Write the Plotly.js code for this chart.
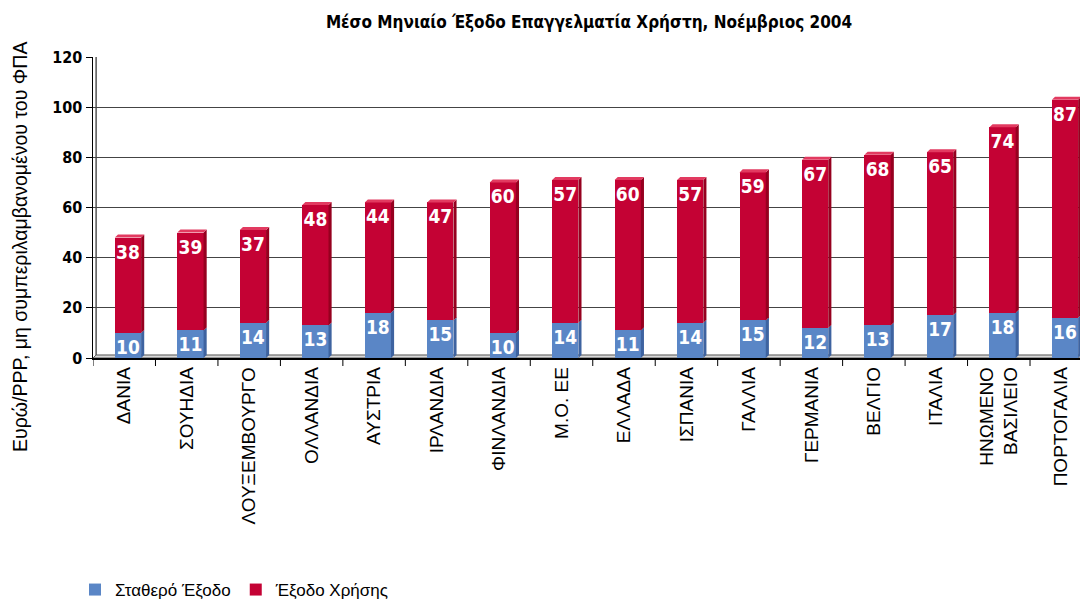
<!DOCTYPE html>
<html><head><meta charset="utf-8">
<script src="https://cdn.plot.ly/plotly-3.0.1.min.js"></script>
<style>body{margin:0;background:#fff}#c{width:1083px;height:602px}</style>
</head><body><div id="c"></div>
<script>
const categories = ["ΔΑΝΙΑ","ΣΟΥΗΔΙΑ","ΛΟΥΞΕΜΒΟΥΡΓΟ","ΟΛΛΑΝΔΙΑ","ΑΥΣΤΡΙΑ","ΙΡΛΑΝΔΙΑ","ΦΙΝΛΑΝΔΙΑ","Μ.Ο. ΕΕ","ΕΛΛΑΔΑ","ΙΣΠΑΝΙΑ","ΓΑΛΛΙΑ","ΓΕΡΜΑΝΙΑ","ΒΕΛΓΙΟ","ΙΤΑΛΙΑ","ΗΝΩΜΕΝΟ<br>ΒΑΣΙΛΕΙΟ","ΠΟΡΤΟΓΑΛΙΑ"];
const fixedCost = [10,11,14,13,18,15,10,14,11,14,15,12,13,17,18,16];
const usageCost = [38,39,37,48,44,47,60,57,60,57,59,67,68,65,74,87];
const seriesNames = ["Σταθερό Έξοδο","Έξοδο Χρήσης"];
const yTicks = [0,20,40,60,80,100,120];

const BLUE = "#5A86C6", RED = "#C40234";
const BLUE_SIDE = "#3E63A0", RED_SIDE = "#96001F";
const RED_TOP = "#E23A60";
const W = 0.42, OFF = -0.15, DX = 0.05, DY = 1.2;
const labelFont = {family:"DejaVu Sans Condensed", size:19, color:"#fff", weight:"bold"};

const xs = categories.map((_, i) => i);
const traces = [
  {type:"bar", name:seriesNames[0], x:xs, y:fixedCost, width:W, offset:OFF,
   marker:{color:BLUE, line:{width:0}}, text:fixedCost.map(String), textposition:"inside",
   insidetextanchor:"end", textangle:0, textfont:labelFont, constraintext:"none", hoverinfo:"y"},
  {type:"bar", name:seriesNames[1], x:xs, y:usageCost, width:W, offset:OFF,
   marker:{color:RED, line:{width:0}}, text:usageCost.map(String), textposition:"inside",
   insidetextanchor:"end", textangle:0, textfont:labelFont, constraintext:"none", hoverinfo:"y"}
];

const shapes = [];
shapes.push({type:"path", xref:"x", yref:"y", layer:"below",
  path:`M -0.5 0 L ${-0.5+DX} ${DY} L 16 ${DY} L 16 0 Z`, fillcolor:"#d9d9d9", line:{color:"#555", width:1}});
shapes.push({type:"line", xref:"x", yref:"y", layer:"below", x0:-0.5+DX, x1:-0.5+DX, y0:DY, y1:120, line:{color:"#555", width:1.5}});
xs.forEach(i => {
  const xl = i + OFF, xr = i + OFF + W;
  const b0 = 0, b1 = fixedCost[i], b2 = fixedCost[i] + usageCost[i];
  shapes.push({type:"path", xref:"x", yref:"y", path:`M ${xr} ${b0} L ${xr+DX} ${b0+DY} L ${xr+DX} ${b1+DY} L ${xr} ${b1} Z`, fillcolor:BLUE_SIDE, line:{width:0}});
  shapes.push({type:"path", xref:"x", yref:"y", path:`M ${xr} ${b1} L ${xr+DX} ${b1+DY} L ${xr+DX} ${b2+DY} L ${xr} ${b2} Z`, fillcolor:RED_SIDE, line:{width:0}});
  shapes.push({type:"path", xref:"x", yref:"y", path:`M ${xl} ${b2} L ${xl+DX} ${b2+DY} L ${xr+DX} ${b2+DY} L ${xr} ${b2} Z`, fillcolor:RED_TOP, line:{width:0}});
});
xs.forEach(i => shapes.push({type:"line", xref:"x", yref:"paper", x0:i-0.5, x1:i-0.5, y0:0, y1:-8/301, line:{color:"#000", width:1}}));

const layout = {
  width:1083, height:602, barmode:"stack",
  margin:{l:93, r:3, t:57, b:244, autoexpand:false},
  paper_bgcolor:"#fff", plot_bgcolor:"#fff",
  font:{family:"Liberation Sans, Arial, sans-serif", color:"#000"},
  title:{text:"<b>Μέσο Μηνιαίο Έξοδο Επαγγελματία Χρήστη, Νοέμβριος 2004</b>",
    font:{family:"DejaVu Sans Condensed", size:17, color:"#000"},
    x:589/1083, xanchor:"center", y:1-22/602, yanchor:"middle", xref:"container", yref:"container"},
  xaxis:{type:"linear", range:[-0.5, 15.3], tickmode:"array", tickvals:xs, ticktext:categories,
    tickangle:-90, ticks:"", showgrid:false, showline:true, linecolor:"#000", linewidth:1.5, automargin:false,
    tickfont:{family:"Liberation Sans, Arial", size:19, color:"#000"}, zeroline:false, fixedrange:true},
  yaxis:{range:[0,120], tickmode:"array", tickvals:yTicks, ticks:"outside", ticklen:6, tickcolor:"#000",
    showline:true, linecolor:"#000", linewidth:1.5, showgrid:true, gridcolor:"#444", gridwidth:1, automargin:false,
    zeroline:false, tickfont:{family:"DejaVu Sans Condensed", size:16, color:"#000", weight:"bold"}, fixedrange:true},
  showlegend:true,
  legend:{orientation:"h", xref:"container", yref:"container", x:75/1083, xanchor:"left", y:(602-590)/602, yanchor:"middle",
    font:{family:"Liberation Sans, Arial", size:17, color:"#000"}, traceorder:"normal", itemwidth:30},
  shapes:shapes,
  annotations:[
    {text:"Ευρώ/PPP, μη συμπεριλαμβανομένου του ΦΠΑ", textangle:-90, showarrow:false,
     xref:"paper", yref:"paper", x:(20-93)/987, xanchor:"center", y:(358-247)/301, yanchor:"middle",
     font:{family:"Liberation Sans, Arial", size:19.5, color:"#000"}}
  ]
};

Plotly.newPlot("c", traces, layout, {displayModeBar:false, staticPlot:true});
</script></body></html>
